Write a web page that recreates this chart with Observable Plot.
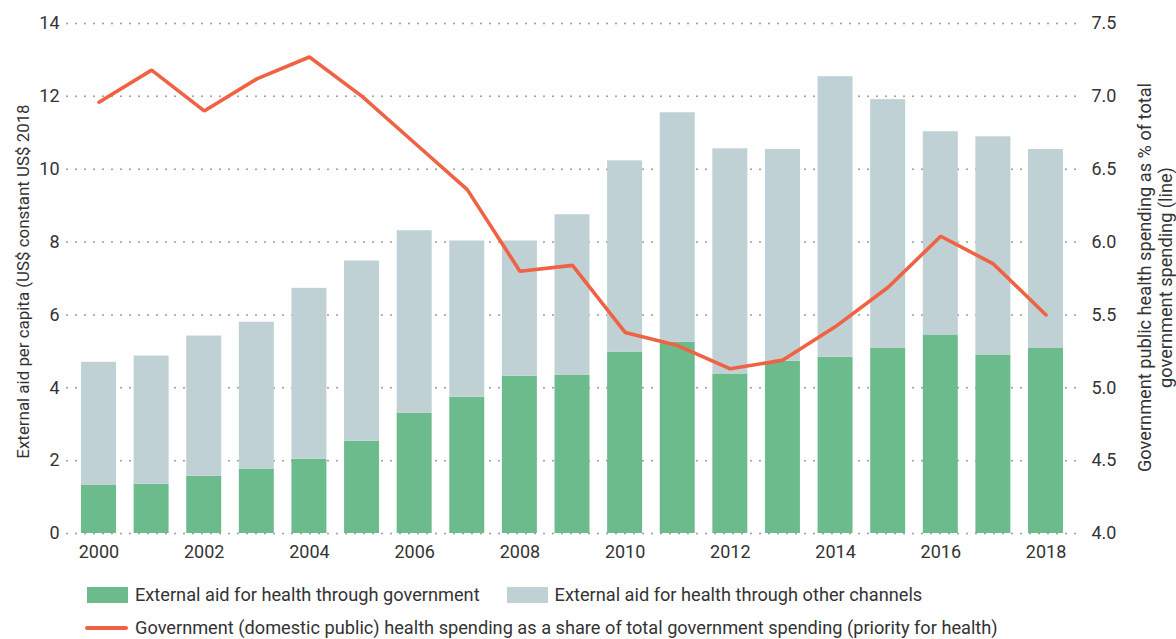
<!DOCTYPE html>
<html><head><meta charset="utf-8">
<script src="https://cdn.jsdelivr.net/npm/d3@7"></script>
<script src="https://cdn.jsdelivr.net/npm/@observablehq/plot@0.6"></script>
<style>
body{margin:0;background:#fff;font-family:Roboto,sans-serif;color:#333}
#wrap{position:relative;width:1176px;height:639px;overflow:hidden}
.leg{position:absolute;display:flex;align-items:center;font-size:18.2px;white-space:nowrap;color:#333;line-height:24px}
.sw{display:inline-block;width:41px;height:16px;margin-right:7px}
.ln{display:inline-block;width:43px;height:4px;margin-right:7px;background:#EF6244;border-radius:2px}
</style></head><body><div id="wrap"></div>
<script>
const years = [2000,2001,2002,2003,2004,2005,2006,2007,2008,2009,2010,2011,2012,2013,2014,2015,2016,2017,2018];
const aidThroughGov = [1.33,1.35,1.57,1.77,2.04,2.53,3.30,3.74,4.32,4.35,4.98,5.25,4.38,4.73,4.84,5.08,5.45,4.90,5.08];
const aidOtherChannels = [3.37,3.52,3.85,4.03,4.69,4.95,5.01,4.29,3.71,4.40,5.25,6.30,6.18,5.81,7.70,6.83,5.58,5.99,5.46];
const priorityForHealth = [6.96,7.18,6.90,7.12,7.27,7.00,6.68,6.36,5.80,5.84,5.38,5.29,5.13,5.19,5.42,5.69,6.04,5.85,5.50];
const seriesNames = ["External aid for health through government","External aid for health through other channels"];
const lineName = "Government (domestic public) health spending as a share of total government spending (priority for health)";
const seriesColors = ["#6BBB8D","#BFD1D4"];
const lineColor = "#EF6244";
const leftTicks = [0,2,4,6,8,10,12,14];
const xTicks = [2000,2002,2004,2006,2008,2010,2012,2014,2016,2018];
const leftTitle = "External aid per capita (US$ constant US$ 2018";
const rightTitle = "Government public health spending as % of total\ngovernment spending (line)";
const rightMin = 4, rightPerLeft = 0.25;

const bars = [];
years.forEach((y,i)=>{
  bars.push({year:y, series:seriesNames[0], value:aidThroughGov[i]});
  bars.push({year:y, series:seriesNames[1], value:aidOtherChannels[i]});
});
const line = years.map((y,i)=>({year:y, value:priorityForHealth[i]}));

const chart = Plot.plot({
  width:1176, height:572,
  marginLeft:67, marginRight:99, marginTop:23, marginBottom:39,
  style:{fontFamily:"Roboto, sans-serif", fontSize:"18px", color:"#333", background:"#fff", overflow:"visible"},
  x:{type:"band", domain:years, paddingInner:0.335, paddingOuter:0.266, round:false},
  y:{domain:[0,14]},
  color:{domain:seriesNames, range:seriesColors},
  marks:[
    Plot.ruleY(leftTicks, {stroke:"#9a9a9a", strokeWidth:2, strokeDasharray:"0 9", strokeLinecap:"round"}),
    Plot.barY(bars, {x:"year", y:"value", fill:"series"}),
    Plot.line(line, {x:"year", y:d=>(d.value-rightMin)/rightPerLeft, stroke:lineColor, strokeWidth:3.6, strokeLinejoin:"miter"}),
    Plot.axisY(leftTicks, {anchor:"left", tickSize:0, tickPadding:8, label:null, fontSize:18}),
    Plot.axisY(leftTicks, {anchor:"right", tickSize:0, tickPadding:14, label:null, fontSize:18, tickFormat:d=>(rightMin+d*rightPerLeft).toFixed(1)}),
    Plot.axisX(xTicks, {anchor:"bottom", tickSize:0, tickPadding:12, label:null, fontSize:18, tickFormat:d=>String(d)}),
    Plot.text([leftTitle], {frameAnchor:"left", dx:-44, dy:3, rotate:-90, fontSize:16.9, fill:"#333", textAnchor:"middle"}),
    Plot.text([rightTitle], {frameAnchor:"right", dx:77, dy:-1, rotate:-90, fontSize:18.2, fill:"#333", textAnchor:"middle", lineAnchor:"middle", lineHeight:1.2})
  ]
});
const wrap = document.getElementById("wrap");
chart.style.position="absolute"; chart.style.left="0"; chart.style.top="0";
wrap.appendChild(chart);

function legItem(parent, kind, color, label){
  const sp = document.createElement("span");
  sp.style.display="inline-flex"; sp.style.alignItems="center";
  const s = document.createElement("span");
  s.className = kind; s.style.background = color;
  sp.appendChild(s);
  const t = document.createElement("span"); t.textContent = label; sp.appendChild(t);
  parent.appendChild(sp);
  return sp;
}
const row1 = document.createElement("div"); row1.className="leg"; row1.style.left="87px"; row1.style.top="583px";
const a = legItem(row1,"sw",seriesColors[0],seriesNames[0]);
const b = legItem(row1,"sw",seriesColors[1],seriesNames[1]); b.style.marginLeft="27px";
wrap.appendChild(row1);
const row2 = document.createElement("div"); row2.className="leg"; row2.style.left="85px"; row2.style.top="616px";
legItem(row2,"ln",lineColor,lineName);
wrap.appendChild(row2);
</script></body></html>
